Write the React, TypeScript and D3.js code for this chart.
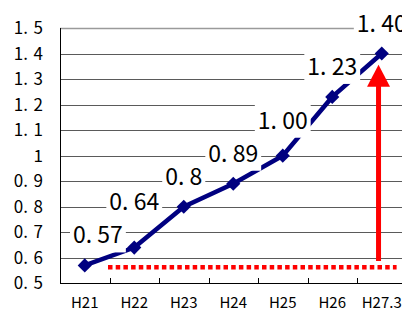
import React, { useEffect, useRef } from 'react';
import * as d3 from 'd3';

const categories = ['H21', 'H22', 'H23', 'H24', 'H25', 'H26', 'H27.3'];
const values = [0.57, 0.64, 0.8, 0.89, 1.0, 1.23, 1.4];
const valueLabels = ['0. 57', '0. 64', '0. 8', '0. 89', '1. 00', '1. 23', '1. 40'];
const yTicks = [0.5, 0.6, 0.7, 0.8, 0.9, 1.0, 1.1, 1.2, 1.3, 1.4, 1.5];
const yTickLabels = ['0.\u20045', '0.\u20046', '0.\u20047', '0.\u20048', '0.\u20049', '1', '1.\u20041', '1.\u20042', '1.\u20043', '1.\u20044', '1.\u20045'];
// annotation: red dotted level and arrow (value units)
const dottedLevel = 0.563;
const arrowFrom = 0.587;
const arrowTo = 1.356;

const W = 402;
const H = 312;
const FONT = '"Noto Sans CJK JP", "Noto Sans", sans-serif';

const App = () => {
  const svgRef = useRef(null);

  useEffect(() => {
    const svg = d3.select(svgRef.current);
    svg.selectAll('*').remove();

    const left = 60;
    const top = 28;
    const bottom = 283.3;

    const x = d3.scaleBand().domain(categories).range([left, 406.5]).padding(0);
    const y = d3.scaleLinear().domain([0.5, 1.5]).range([bottom, top]);
    const cx = (c) => x(c) + x.bandwidth() / 2;

    svg.append('rect').attr('width', W).attr('height', H).attr('fill', '#fff');

    // gridlines
    svg
      .selectAll('.grid')
      .data(yTicks.slice(1))
      .enter()
      .append('line')
      .attr('x1', left)
      .attr('x2', W)
      .attr('y1', (d) => Math.round(y(d)) + 0.5)
      .attr('y2', (d) => Math.round(y(d)) + 0.5)
      .attr('stroke', (d) => (d === 1.5 ? '#9a9a9a' : '#5a5a5a'))
      .attr('stroke-width', (d) => (d === 1.5 ? 1.5 : 1));

    // y tick labels
    svg
      .selectAll('.ylab')
      .data(yTicks)
      .enter()
      .append('text')
      .attr('x', 43)
      .attr('y', (d) => y(d))
      .attr('dy', '0.36em')
      .attr('text-anchor', 'end')
      .attr('font-family', FONT)
      .attr('font-size', 17)
      .text((d, i) => yTickLabels[i]);

    // axes
    svg
      .append('line')
      .attr('x1', left + 0.5)
      .attr('x2', left + 0.5)
      .attr('y1', top)
      .attr('y2', Math.round(bottom) + 0.5)
      .attr('stroke', '#000');
    svg
      .append('line')
      .attr('x1', left)
      .attr('x2', W)
      .attr('y1', Math.round(bottom) + 0.5)
      .attr('y2', Math.round(bottom) + 0.5)
      .attr('stroke', '#000');
    svg
      .selectAll('.xtick')
      .data(categories.slice(1))
      .enter()
      .append('line')
      .attr('x1', (d) => Math.round(x(d)) + 0.5)
      .attr('x2', (d) => Math.round(x(d)) + 0.5)
      .attr('y1', Math.round(bottom) - 5)
      .attr('y2', Math.round(bottom))
      .attr('stroke', '#000');

    // x labels
    svg
      .selectAll('.xlab')
      .data(categories)
      .enter()
      .append('text')
      .attr('x', (d) => cx(d))
      .attr('y', 307.5)
      .attr('text-anchor', 'middle')
      .attr('font-family', FONT)
      .attr('font-size', 15)
      .text((d) => d);

    // red dotted level line
    svg
      .append('line')
      .attr('x1', x('H22') - 1.5)
      .attr('x2', x('H27.3') + x.bandwidth() * 0.8)
      .attr('y1', y(dottedLevel))
      .attr('y2', y(dottedLevel))
      .attr('stroke', '#ff0000')
      .attr('stroke-width', 4.5)
      .attr('stroke-dasharray', '4.5 3.2');

    // series line
    const line = d3
      .line()
      .x((d, i) => cx(categories[i]))
      .y((d) => y(d));
    svg
      .append('path')
      .datum(values)
      .attr('d', line)
      .attr('fill', 'none')
      .attr('stroke', '#000080')
      .attr('stroke-width', 4.5);

    // markers
    const sym = d3.symbol(d3.symbolSquare, 100);
    svg
      .selectAll('.mk')
      .data(values)
      .enter()
      .append('path')
      .attr('d', sym)
      .attr('transform', (d, i) => `translate(${cx(categories[i])},${y(d)}) rotate(45)`)
      .attr('fill', '#000080');

    // data labels with white boxes
    const lg = svg.append('g');
    let prev = null;
    values.forEach((v, i) => {
      const g = lg.append('g');
      const box = g.append('rect').attr('fill', '#fff');
      const t = g
        .append('text')
        .attr('font-family', FONT)
        .attr('font-size', 23)
        .attr('text-anchor', 'middle')
        .text(valueLabels[i]);
      const w = t.node().getComputedTextLength();
      let xc = cx(categories[i]);
      let bx0 = xc - w / 2 - 3;
      if (bx0 < left + 10) {
        xc += left + 10 - bx0;
        bx0 = left + 10;
      }
      let base = y(v) - 22;
      let b = { x0: bx0, x1: bx0 + w + 6, y0: base - 24, y1: base + 9 };
      if (prev && b.x0 < prev.x1 && b.y1 > prev.y0) {
        base = prev.y0 - 9;
        b = { ...b, y0: base - 24, y1: base + 9 };
      }
      t.attr('x', xc).attr('y', base);
      box.attr('x', b.x0).attr('y', b.y0).attr('width', b.x1 - b.x0).attr('height', b.y1 - b.y0);
      prev = b;
    });

    // red arrow
    const ax = cx('H27.3') - x.bandwidth() * 0.065;
    const tipY = y(arrowTo);
    const headH = 22;
    svg
      .append('line')
      .attr('x1', ax)
      .attr('x2', ax)
      .attr('y1', y(arrowFrom))
      .attr('y2', tipY + headH - 1)
      .attr('stroke', '#ff0000')
      .attr('stroke-width', 5);
    svg
      .append('path')
      .attr('d', `M${ax},${tipY} L${ax + 11.5},${tipY + headH} L${ax - 11.5},${tipY + headH} Z`)
      .attr('fill', '#ff0000');

    return () => {
      svg.selectAll('*').remove();
    };
  }, []);

  return (
    <svg
      ref={svgRef}
      width={W}
      height={H}
      style={{ position: 'absolute', left: 0, top: 0, display: 'block' }}
    ></svg>
  );
};

export default App;
